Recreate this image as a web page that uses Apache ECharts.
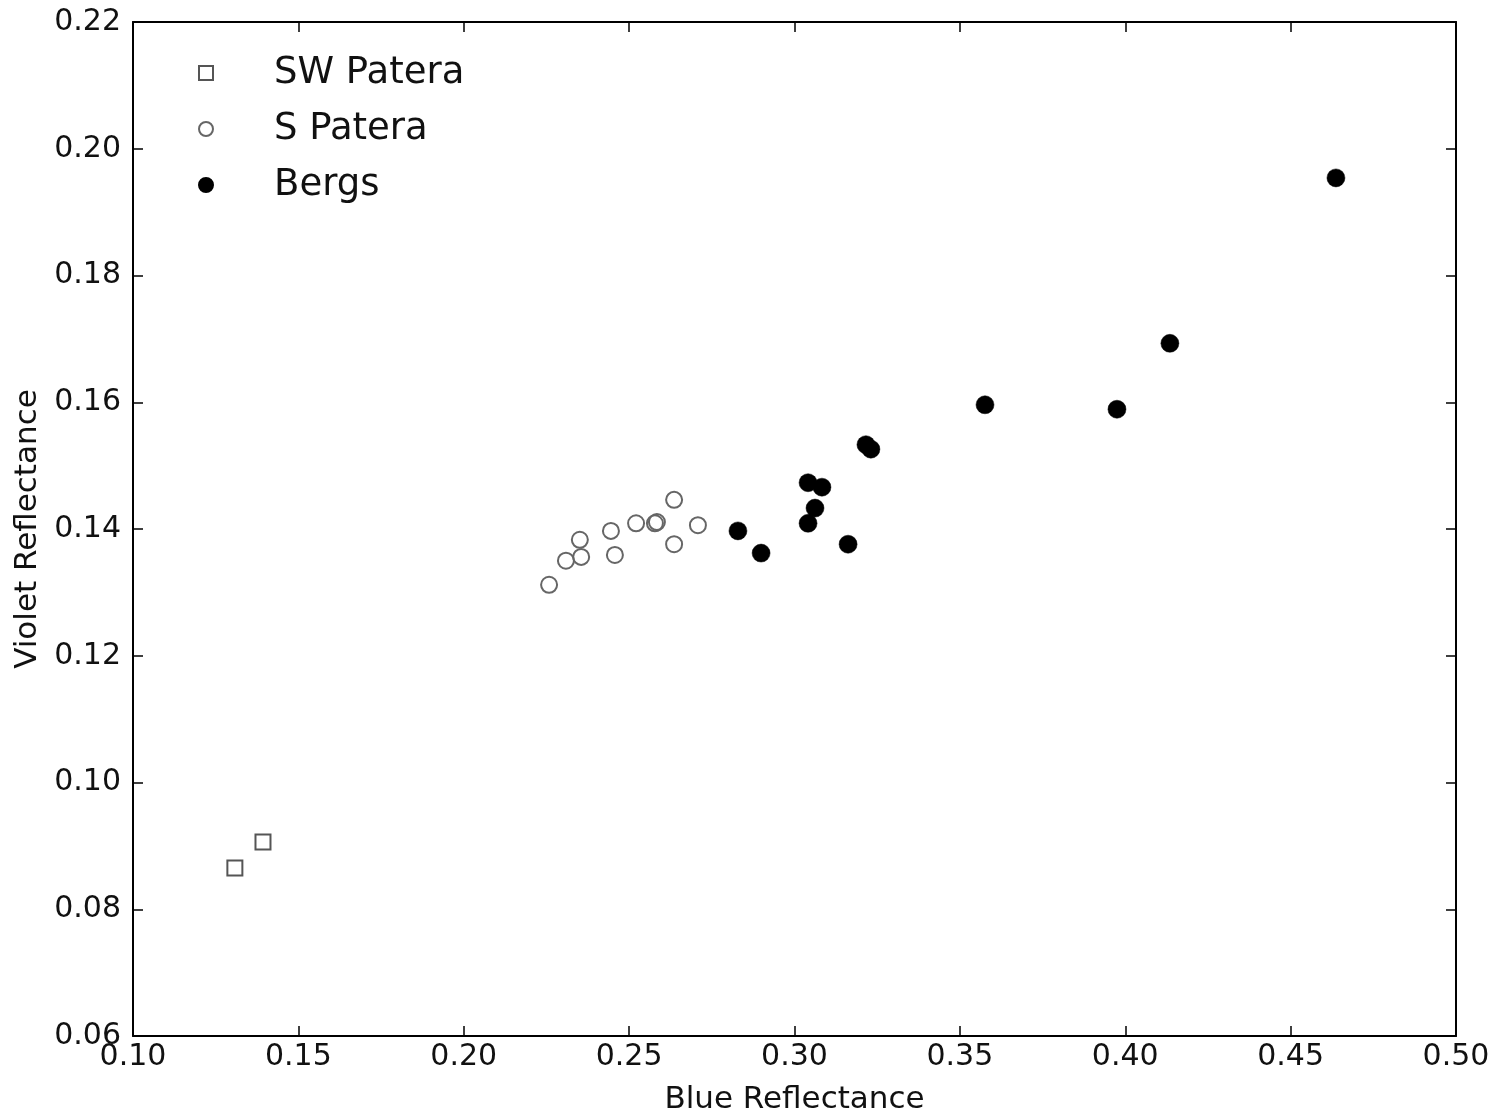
<!DOCTYPE html>
<html>
<head>
<meta charset="utf-8">
<title>Violet vs Blue Reflectance</title>
<script src="https://cdn.jsdelivr.net/npm/echarts@6/dist/echarts.min.js"></script>
<style>
  html, body { margin: 0; padding: 0; background: #ffffff; }
  #chart { width: 1507px; height: 1117px; }
</style>
</head>
<body>
<div id="chart"></div>
<script>
// [blue reflectance, violet reflectance]
const swPatera = [
  [0.1308, 0.0865],
  [0.1393, 0.0906]
];
const sPatera = [
  [0.2258, 0.1312],
  [0.2309, 0.1350],
  [0.2351, 0.1383],
  [0.2355, 0.1356],
  [0.2445, 0.1397],
  [0.2457, 0.1359],
  [0.2521, 0.1409],
  [0.2578, 0.1409],
  [0.2584, 0.1411],
  [0.2636, 0.1446],
  [0.2636, 0.1376],
  [0.2708, 0.1406]
];
const bergs = [
  [0.2829, 0.1397],
  [0.2899, 0.1362],
  [0.3041, 0.1473],
  [0.3083, 0.1466],
  [0.3062, 0.1433],
  [0.3041, 0.1409],
  [0.3162, 0.1376],
  [0.3216, 0.1533],
  [0.3231, 0.1526],
  [0.3576, 0.1596],
  [0.3975, 0.1589],
  [0.4135, 0.1693],
  [0.4637, 0.1954]
];
const seriesNames = ['SW Patera', 'S Patera', 'Bergs'];
const xRange = { min: 0.10, max: 0.50, step: 0.05 };
const yRange = { min: 0.06, max: 0.22, step: 0.02 };

const FONT = '"DejaVu Sans", sans-serif';
const frame = { show: true, lineStyle: { color: '#000', width: 2 } };
const ticksIn = { show: true, inside: true, length: 10, lineStyle: { color: '#000', width: 1.5 } };

function valueAxis(range, extra) {
  return Object.assign({
    type: 'value',
    min: range.min,
    max: range.max,
    interval: range.step,
    splitLine: { show: false },
    axisLine: frame,
    axisTick: ticksIn
  }, extra);
}

const chart = echarts.init(document.getElementById('chart'), null, { renderer: 'canvas' });

chart.setOption({
  animation: false,
  backgroundColor: '#ffffff',
  textStyle: { fontFamily: FONT },
  grid: {
    left: 133, right: 51, top: 22, bottom: 81,
    containLabel: false,
    outerBoundsMode: 'none'
  },
  legend: {
    orient: 'vertical',
    left: 193,
    top: 48,
    itemWidth: 14,
    itemHeight: 14,
    itemGap: 16,
    data: seriesNames,
    textStyle: { fontFamily: FONT, fontSize: 37, color: '#111', padding: [0, 0, 0, 56], lineHeight: 40 },
    selectedMode: false
  },
  xAxis: [
    valueAxis(xRange, {
      position: 'bottom',
      name: 'Blue Reflectance',
      nameLocation: 'middle',
      nameGap: 48,
      nameTextStyle: { fontFamily: FONT, fontSize: 31, color: '#111' },
      axisLabel: {
        fontFamily: FONT, fontSize: 30, color: '#111', margin: 6,
        formatter: v => v.toFixed(2)
      }
    }),
    valueAxis(xRange, { position: 'top', axisLabel: { show: false } })
  ],
  yAxis: [
    valueAxis(yRange, {
      position: 'left',
      name: 'Violet Reflectance',
      nameLocation: 'middle',
      nameGap: 86,
      nameTextStyle: { fontFamily: FONT, fontSize: 31, color: '#111' },
      axisLabel: {
        fontFamily: FONT, fontSize: 30, color: '#111', margin: 12,
        formatter: v => v.toFixed(2)
      }
    }),
    valueAxis(yRange, { position: 'right', axisLabel: { show: false } })
  ],
  series: [
    {
      name: seriesNames[0],
      type: 'scatter',
      data: swPatera,
      symbol: 'rect',
      symbolSize: 15,
      itemStyle: { color: '#ffffff', borderColor: '#555', borderWidth: 2, opacity: 1 }
    },
    {
      name: seriesNames[1],
      type: 'scatter',
      data: sPatera,
      symbol: 'circle',
      symbolSize: 16,
      itemStyle: { color: 'rgba(255,255,255,0)', borderColor: '#666', borderWidth: 2, opacity: 1 }
    },
    {
      name: seriesNames[2],
      type: 'scatter',
      data: bergs,
      symbol: 'circle',
      symbolSize: 18,
      itemStyle: { color: '#000', borderColor: '#000', borderWidth: 0.5, opacity: 1 }
    }
  ]
});
</script>
</body>
</html>
